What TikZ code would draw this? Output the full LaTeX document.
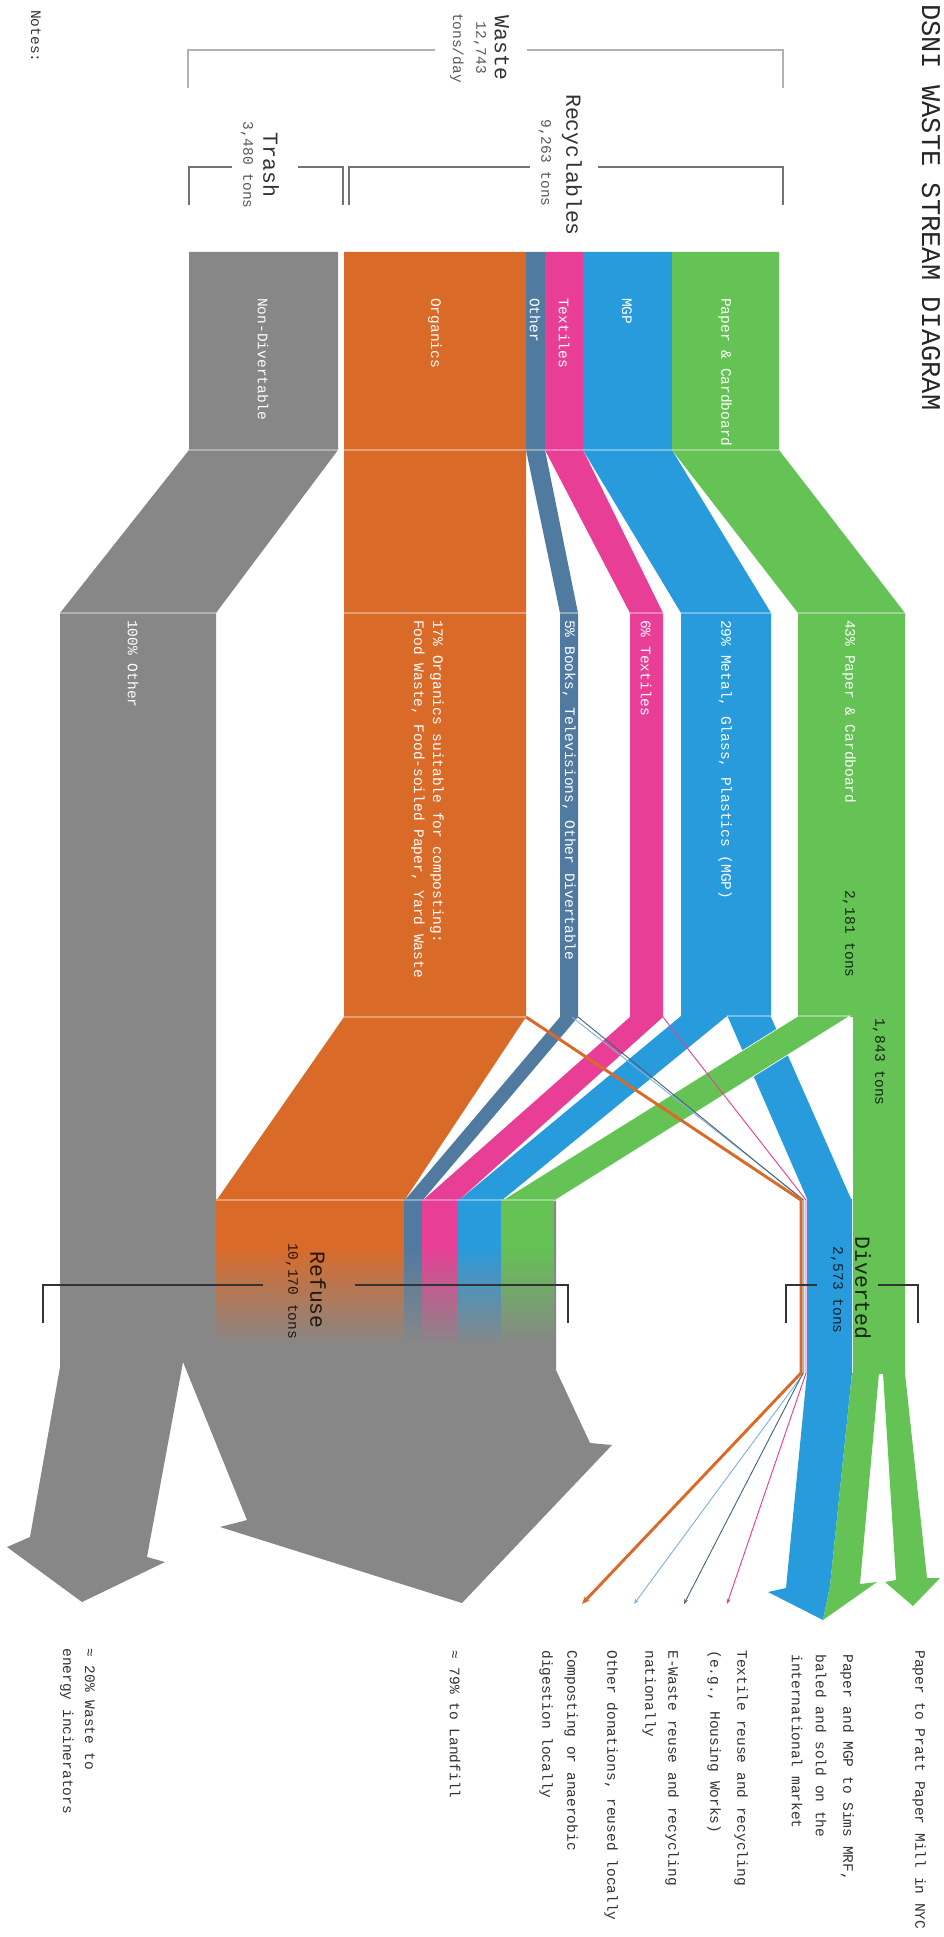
\documentclass[tikz,border=0pt]{standalone}
\usepackage{fontspec}
\newfontfamily\mono{Liberation Mono}
\usetikzlibrary{arrows.meta}
\definecolor{cgray}{RGB}{135,135,135}
\definecolor{corange}{RGB}{218,106,40}
\definecolor{cslate}{RGB}{80,122,160}
\definecolor{cpink}{RGB}{233,62,150}
\definecolor{cblue}{RGB}{40,155,220}
\definecolor{cgreen}{RGB}{100,195,84}
\definecolor{clight}{RGB}{130,178,218}
\definecolor{cdark}{RGB}{75,100,125}
\begin{document}
\begin{tikzpicture}[x=0.75pt,y=-0.75pt,
  body/.style={rotate=-90, inner sep=0pt, font=\mono\fontsize{10.9pt}{13pt}\selectfont},
  bandlbl/.style={body, text=white, anchor=west},
  note/.style={body, text=black!80, anchor=west},
  tonlbl/.style={body, text=black, text opacity=0.8, anchor=west},
  heading/.style={rotate=-90, inner sep=0pt, font=\mono\fontsize{16.1pt}{18pt}\selectfont},
  sublbl/.style={body},
  brkA/.style={draw=black!30, line width=2pt},
  brkB/.style={draw=black!55, line width=1.5pt},
  brkC/.style={draw=black!80, line width=1.1pt},
  sec/.style={draw=white, draw opacity=0.35, line width=1.1pt},
  fan/.style={line width=0.7pt, -{Stealth[length=4pt,width=3pt]}},
]
\useasboundingbox (0,0) rectangle (944,1937);
\fill[white] (0,0) rectangle (944,1937);

% ---------- refuse big gray with two arrows ----------
\fill[cgray] (60,1200) -- (556,1200) -- (556,1370) -- (590,1443) -- (612,1445)
  -- (462,1603) -- (220,1527) -- (247,1520) -- (183,1362) -- (147,1557)
  -- (165,1562) -- (82,1602) -- (7,1547) -- (30,1537) -- (60,1367) -- cycle;

% ---------- trash (non-divertable) ----------
\fill[cgray] (189,252) -- (338,252) -- (338,450) -- (216,613) -- (216,1201)
  -- (60,1201) -- (60,613) -- (189,450) -- cycle;

% ---------- organics ----------
\fill[corange] (344,252) -- (526,252) -- (526,1017) -- (404,1201) -- (216,1201)
  -- (344,1017) -- cycle;

% ---------- other ----------
\fill[cslate] (526,252) -- (545,252) -- (545,450) -- (578,613) -- (578,1017)
  -- (422,1201) -- (404,1201) -- (560,1017) -- (560,613) -- (526,450) -- cycle;

% ---------- textiles ----------
\fill[cpink] (545,252) -- (583,252) -- (583,450) -- (663,613) -- (663,1017)
  -- (458,1201) -- (422,1201) -- (630,1017) -- (630,613) -- (545,450) -- cycle;

% ---------- MGP ----------
\fill[cblue] (583,252) -- (672,252) -- (672,450) -- (771,613) -- (771,1017)
  -- (681,1017) -- (681,613) -- (583,450) -- cycle;
\fill[cblue] (681,1016) -- (727,1016) -- (501,1201) -- (458,1201) -- cycle;
\fill[cblue, draw=white, line width=0.5pt] (727,1016) -- (771,1016) -- (852,1200) -- (807,1200) -- cycle;
% Sims arrow, blue part
\fill[cblue] (807,1199) -- (852,1199) -- (852,1373) -- (830,1586) -- (823,1620)
  -- (768,1592) -- (786,1588) -- (807,1373) -- cycle;

% ---------- paper & cardboard ----------
\fill[cgreen] (672,252) -- (779,252) -- (779,450) -- (905,613) -- (905,1374)
  -- (853,1374) -- (853,1017) -- (798,1017) -- (798,613) -- (672,450) -- cycle;
\fill[cgreen, draw=white, line width=0.5pt] (798,1016) -- (850,1016) -- (554,1201) -- (501,1201) -- cycle;
% Sims arrow, green part
\fill[cgreen] (852,1373) -- (879,1373) -- (860,1584) -- (877,1582) -- (823,1620)
  -- (830,1586) -- cycle;
% Pratt arrow
\fill[cgreen] (883,1373) -- (905,1373) -- (927,1578) -- (940,1578) -- (913,1606)
  -- (885,1582) -- (896,1580) -- cycle;

% ---------- refuse colour fade ----------
\foreach \a/\b/\c in {216/404/corange, 404/422/cslate, 422/458/cpink, 458/501/cblue, 501/554/cgreen}{
  \fill[\c] (\a,1199) rectangle (\b,1246);
  \shade[top color=\c, bottom color=cgray] (\a,1245) rectangle (\b,1345);
}

% ---------- faint section lines ----------
\draw[sec] (189,450) -- (338,450);
\draw[sec] (344,450) -- (779,450);
\draw[sec] (60,613) -- (216,613);
\draw[sec] (344,613) -- (526,613);
\draw[sec] (560,613) -- (578,613);
\draw[sec] (630,613) -- (663,613);
\draw[sec] (681,613) -- (771,613);
\draw[sec] (798,613) -- (905,613);
\draw[sec] (344,1017) -- (526,1017);
\draw[sec] (216,1200) -- (554,1200);

% ---------- thin flows to diverted ----------
\coordinate (oS) at (526,1017);
\coordinate (oM) at (801,1200);
\coordinate (oB) at (801,1373);
\coordinate (oE) at (582,1604);
\coordinate (sS) at (578,1017);
\coordinate (sM) at (803,1200);
\coordinate (sB) at (803,1373);
\coordinate (sE) at (684,1604);
\coordinate (lS) at (572,1017);
\coordinate (lM) at (804,1200);
\coordinate (lB) at (804,1373);
\coordinate (lE) at (634,1604);
\coordinate (pS) at (663,1017);
\coordinate (pM) at (806,1200);
\coordinate (pB) at (806,1373);
\coordinate (pE) at (727,1604);
\draw[fan, draw=cpink] (pS) -- (pM) -- (pB) -- (pE);
\draw[fan, draw=clight] (lS) -- (lM) -- (lB) -- (lE);
\draw[fan, draw=cdark] (sS) -- (sM) -- (sB) -- (sE);
\draw[fan, draw=corange, line width=2.2pt, -{Stealth[length=6pt,width=5pt]}] (oS) -- (oM) -- (oB) -- (oE);

% ---------- title & notes ----------
\node[rotate=-90, anchor=west, inner sep=0pt, font=\mono\fontsize{20.3pt}{22pt}\selectfont, text=black!85] (title) at (931,4) {DSNI WASTE STREAM DIAGRAM};
\node[note] (notes) at (36,10) {Notes:};

% ---------- top brackets ----------
\draw[brkA] (188,88) -- (188,50) -- (435,50);
\draw[brkA] (527,50) -- (783,50) -- (783,88);
\node[heading, text=black!80] (waste) at (502,48) {Waste};
\node[sublbl, text=black!65] (wasteN) at (480,48) {12,743};
\node[sublbl, text=black!65] (wasteU) at (457,48) {tons/day};

\draw[brkB] (189,205) -- (189,167) -- (232,167);
\draw[brkB] (298,167) -- (343,167) -- (343,205);
\node[heading, text=black!80] (trash) at (271,165) {Trash};
\node[sublbl, text=black!65] (trashN) at (247,165) {3,480 tons};

\draw[brkB] (349,205) -- (349,167) -- (530,167);
\draw[brkB] (598,167) -- (783,167) -- (783,205);
\node[heading, text=black!80] (recy) at (572,165) {Recyclables};
\node[sublbl, text=black!65] (recyN) at (545,163) {9,263 tons};

% ---------- top band labels ----------
\node[bandlbl] (l1) at (263,298) {Non-Divertable};
\node[bandlbl] (l2) at (435,298) {Organics};
\node[bandlbl] (l3) at (535,298) {Other};
\node[bandlbl] (l4) at (564,298) {Textiles};
\node[bandlbl] (l5) at (627,298) {MGP};
\node[bandlbl] (l6) at (725,298) {Paper \& Cardboard};

% ---------- middle band labels ----------
\node[bandlbl] (m1) at (133,620) {100\% Other};
\node[bandlbl] (m2a) at (437,620) {17\% Organics suitable for composting:};
\node[bandlbl] (m2b) at (418,620) {Food Waste, Food-soiled Paper, Yard Waste};
\node[bandlbl] (m3) at (569,620) {5\% Books, Televisions, Other Divertable};
\node[bandlbl] (m4) at (646,620) {6\% Textiles};
\node[bandlbl] (m5) at (725,620) {29\% Metal, Glass, Plastics (MGP)};
\node[bandlbl] (m6) at (849,620) {43\% Paper \& Cardboard};
\node[tonlbl] (t1) at (849,890) {2,181 tons};
\node[tonlbl] (t2) at (879,1018) {1,843 tons};

% ---------- refuse / diverted brackets ----------
\draw[brkC] (43,1323) -- (43,1285) -- (263,1285);
\draw[brkC] (355,1285) -- (568,1285) -- (568,1323);
\node[heading, text=black, text opacity=0.8] (refuse) at (318,1290) {Refuse};
\node[sublbl, text=black, text opacity=0.8] (refuseN) at (292,1291) {10,170 tons};

\draw[brkC] (786,1323) -- (786,1285) -- (817,1285);
\draw[brkC] (878,1285) -- (918,1285) -- (918,1323);
\node[heading, text=black, text opacity=0.8] (div) at (863,1288) {Diverted};
\node[sublbl, text=black, text opacity=0.8] (divN) at (837,1290) {2,573 tons};

% ---------- destination notes ----------
\node[note] (n1) at (919,1650) {Paper to Pratt Paper Mill in NYC};
\node[note] (n2a) at (847,1654) {Paper and MGP to Sims MRF,};
\node[note] (n2b) at (821,1654) {baled and sold on the};
\node[note] (n2c) at (797,1654) {international market};
\node[note] (n3a) at (741,1650) {Textile reuse and recycling};
\node[note] (n3b) at (714,1650) {(e.g., Housing Works)};
\node[note] (n4a) at (672,1650) {E-Waste reuse and recycling};
\node[note] (n4b) at (649,1650) {nationally};
\node[note] (n5) at (611,1650) {Other donations, reused locally};
\node[note] (n6a) at (571,1650) {Composting or anaerobic};
\node[note] (n6b) at (546,1650) {digestion locally};
\node[note] (n7) at (455,1650) {≈ 79\% to Landfill};
\node[note] (n8a) at (90,1648) {≈ 20\% Waste to};
\node[note] (n8b) at (67,1648) {energy incinerators};
\end{tikzpicture}
\end{document}
